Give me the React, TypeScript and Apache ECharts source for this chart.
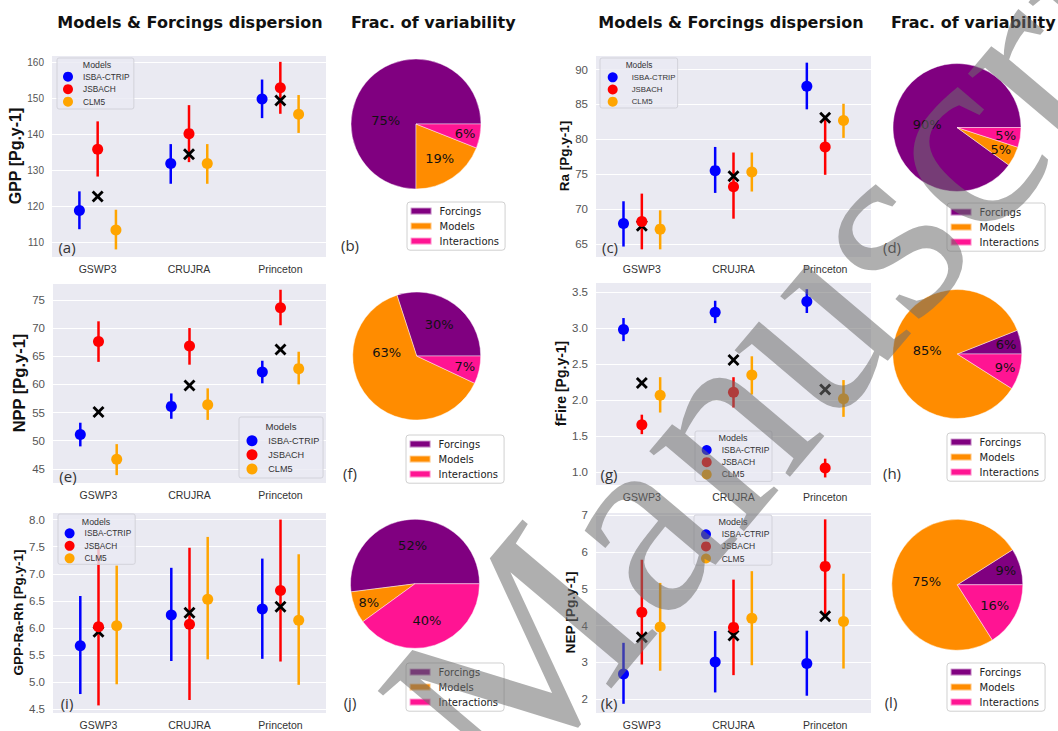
import React, { useEffect, useRef } from 'react';
import * as echarts from 'echarts';

// ---------- data ----------
const forcings = ['GSWP3', 'CRUJRA', 'Princeton'];
const models = ['ISBA-CTRIP', 'JSBACH', 'CLM5'];
const sources = ['Forcings', 'Models', 'Interactions'];

// each entry: [mean, low, high] for GSWP3, CRUJRA, Princeton
const gppIsba = [[118.9, 113.7, 124.2], [131.9, 126.3, 137.3], [149.8, 144.5, 155.2]];
const gppJsbach = [[135.9, 128.3, 143.6], [140.2, 132.3, 148.1], [152.9, 145.7, 160.1]];
const gppClm5 = [[113.5, 108.1, 119.1], [131.9, 126.3, 137.3], [145.6, 140.4, 150.9]];
const gppEns = [122.8, 134.5, 149.4];

const raIsba = [[67.9, 64.6, 71.1], [75.5, 72.3, 78.9], [87.6, 84.3, 91.0]];
const raJsbach = [[68.2, 64.2, 72.2], [73.2, 68.6, 78.1], [78.9, 74.9, 83.0]];
const raClm5 = [[67.1, 64.2, 69.8], [75.3, 72.5, 78.1], [82.7, 80.2, 85.1]];
const raEns = [67.6, 74.7, 83.1];

const nppIsba = [[51.1, 49.0, 53.2], [56.1, 53.9, 58.4], [62.2, 60.2, 64.2]];
const nppJsbach = [[67.6, 64.0, 71.2], [66.8, 63.5, 70.0], [73.6, 70.5, 76.8]];
const nppClm5 = [[46.7, 43.9, 49.4], [56.4, 53.7, 59.3], [62.8, 60.0, 65.8]];
const nppEns = [55.1, 59.8, 66.2];

const fireIsba = [[2.98, 2.82, 3.14], [3.22, 3.07, 3.38], [3.37, 3.21, 3.54]];
const fireJsbach = [[1.66, 1.53, 1.80], [2.11, 1.90, 2.32], [1.06, 0.93, 1.19]];
const fireClm5 = [[2.07, 1.83, 2.32], [2.35, 2.08, 2.61], [2.02, 1.77, 2.28]];
const fireEns = [2.24, 2.56, 2.15];

const nbpIsba = [[5.67, 4.78, 6.59], [6.24, 5.39, 7.11], [6.35, 5.43, 7.28]];
const nbpJsbach = [[6.02, 4.57, 7.48], [6.07, 4.67, 7.48], [6.69, 5.38, 8.0]];
const nbpClm5 = [[6.04, 4.96, 7.15], [6.53, 5.42, 7.68], [6.14, 4.95, 7.36]];
const nbpEns = [5.93, 6.28, 6.39];

const nepIsba = [[2.68, 1.87, 3.53], [3.01, 2.18, 3.85], [2.97, 2.09, 3.86]];
const nepJsbach = [[4.36, 2.94, 5.79], [3.95, 2.65, 5.25], [5.61, 4.22, 6.89]];
const nepClm5 = [[3.96, 2.77, 5.16], [4.20, 2.92, 5.48], [4.11, 2.83, 5.41]];
const nepEns = [3.68, 3.73, 4.25];

// fractions of variability: Forcings, Models, Interactions (%)
const fracGpp = [75, 19, 6];
const fracRa = [90, 5, 5];
const fracNpp = [30, 63, 7];
const fracFire = [6, 85, 9];
const fracNbp = [52, 8, 40];
const fracNep = [9, 75, 16];

// ---------- styles ----------
const SANS = '"Liberation Sans", Arial, sans-serif';
const DJ = '"DejaVu Sans", sans-serif';
const modelColors = ['#0000FF', '#FF0000', '#FFA500'];
const pieColors = ['#800080', '#FF8C00', '#FF1493'];
const xPath = 'path://M0,2L2,0L6,4L10,0L12,2L8,6L12,10L10,12L6,8L2,12L0,10L4,6Z';
const offsets = [-0.2, 0, 0.2];

const panels = [
  {
    name: 'GPP [Pg.y-1]', sets: [gppIsba, gppJsbach, gppClm5], ens: gppEns, min: 106, max: 162, split: 5, dec: 0,
    grid: [52, 55, 274, 202], nameSize: 16, nameGap: 27, tick: 10, cat: 10.5,
    lg: { left: 57, top: 58, pad: [13.7, 4.3, 2.3, 6], gap: 2.5, icon: 10, font: 8.3, tpad: 5, tx: 97, ty: 65 },
    letter: ['(a)', 67, 247],
  },
  {
    name: 'Ra [Pg.y-1]', sets: [raIsba, raJsbach, raClm5], ens: raEns, min: 63.1, max: 92.1, split: 5, dec: 0,
    grid: [596, 55, 275, 202], nameSize: 13.5, nameGap: 24, tick: 11.5, cat: 10.5,
    lg: { left: 600, top: 58, pad: [14.3, 2.2, 1.3, 7.7], gap: 2.2, icon: 10, font: 7.8, tpad: 9, tx: 639, ty: 65 },
    letter: ['(c)', 610, 247],
  },
  {
    name: 'NPP [Pg.y-1]', sets: [nppIsba, nppJsbach, nppClm5], ens: nppEns, min: 42.5, max: 78, split: 7, dec: 0,
    grid: [53, 283, 273, 200], nameSize: 16.5, nameGap: 26, tick: 11.5, cat: 10.5,
    lg: { left: 239, top: 417, pad: [18.2, 3.7, 3.5, 7.5], gap: 3.15, icon: 11, font: 9.1, tpad: 5.8, tx: 281, ty: 426 },
    letter: ['(e)', 68, 476],
  },
  {
    name: 'fFire [Pg.y-1]', sets: [fireIsba, fireJsbach, fireClm5], ens: fireEns, min: 0.825, max: 3.64, split: 5, dec: 1,
    grid: [596, 282, 275, 203], nameSize: 14, nameGap: 27, tick: 11.5, cat: 10.5,
    lg: { left: 695, top: 431, pad: [14, 2.6, 2, 6.7], gap: 2.2, icon: 10, font: 8.5, tpad: 5, tx: 733, ty: 438 },
    letter: ['(g)', 609, 474],
  },
  {
    name: 'GPP-Ra-Rh [Pg.y-1]', sets: [nbpIsba, nbpJsbach, nbpClm5], ens: nbpEns, min: 4.43, max: 8.14, split: 7, dec: 1,
    grid: [53, 512, 273, 201], nameSize: 13.5, nameGap: 26, tick: 11.5, cat: 10.5,
    lg: { left: 58, top: 514, pad: [14.3, 4, 1, 6.6], gap: 2.5, icon: 10, font: 8.3, tpad: 5, tx: 96, ty: 522 },
    letter: ['(i)', 67, 703],
  },
  {
    name: 'NEP [Pg.y-1]', sets: [nepIsba, nepJsbach, nepClm5], ens: nepEns, min: 1.62, max: 7.09, split: 5, dec: 0,
    grid: [596, 512, 275, 201], nameSize: 13.7, nameGap: 16, tick: 11.5, cat: 10.5,
    lg: { left: 694, top: 515, pad: [14.3, 2.6, 1.7, 7], gap: 2.1, icon: 10, font: 8.5, tpad: 5.7, tx: 733, ty: 522 },
    letter: ['(k)', 609, 703],
  },
];

const pies = [
  { vals: fracGpp, c: [416, 124], r: 65, lg: [407, 202], letter: ['(b)', 350, 245] },
  { vals: fracRa, c: [957, 127.5], r: 64, lg: [947, 203], letter: ['(d)', 892, 247] },
  { vals: fracNpp, c: [416.7, 356], r: 64, lg: [406, 435], letter: ['(f)', 350, 473] },
  { vals: fracFire, c: [957.3, 354], r: 64.5, lg: [947, 433], letter: ['(h)', 892, 473] },
  { vals: fracNbp, c: [415, 583.8], r: 64.5, lg: [406, 663], letter: ['(j)', 350, 702] },
  { vals: fracNep, c: [957.3, 584.8], r: 65.5, lg: [947, 663], letter: ['(l)', 891, 702] },
];

function buildOption() {
  const grid: any[] = [];
  const xAxis: any[] = [];
  const yAxis: any[] = [];
  const series: any[] = [];
  const legend: any[] = [];
  const graphic: any[] = [];

  panels.forEach((p, k) => {
    const [l, t, w, h] = p.grid;
    grid.push({ left: l, top: t, width: w, height: h, show: true, backgroundColor: '#EAEAF2', borderWidth: 0 });
    xAxis.push({
      type: 'category', gridIndex: k, data: forcings, boundaryGap: true,
      axisLine: { show: false }, axisTick: { show: false }, splitLine: { show: false },
      axisLabel: { color: '#333', fontSize: p.cat, fontFamily: SANS, margin: 6, interval: 0 },
    });
    xAxis.push({ type: 'value', gridIndex: k, min: -0.5, max: 2.5, show: false });
    yAxis.push({
      type: 'value', gridIndex: k, min: p.min, max: p.max, splitNumber: p.split,
      name: p.name, nameLocation: 'middle', nameGap: p.nameGap,
      nameTextStyle: { fontSize: p.nameSize, fontWeight: 'bold', color: '#111', fontFamily: SANS },
      axisLine: { show: false }, axisTick: { show: false },
      splitLine: { show: true, lineStyle: { color: '#ffffff', width: 1.2 } },
      axisLabel: {
        color: '#555', fontSize: p.tick, fontFamily: SANS, margin: 8,
        showMinLabel: false, showMaxLabel: false,
        formatter: (v: number) => v.toFixed(p.dec),
      },
    });
    const xi = 2 * k + 1;
    p.sets.forEach((set, m) => {
      const color = modelColors[m];
      series.push({
        type: 'custom', name: 'err-' + k + '-' + m, xAxisIndex: xi, yAxisIndex: k, z: 2, silent: true,
        data: set.map((d, i) => [i + offsets[m], d[1], d[2]]),
        encode: { x: 0, y: [1, 2] },
        renderItem: (_params: any, api: any) => {
          const a = api.coord([api.value(0), api.value(1)]);
          const b = api.coord([api.value(0), api.value(2)]);
          return {
            type: 'line',
            shape: { x1: a[0], y1: a[1], x2: b[0], y2: b[1] },
            style: { stroke: color, lineWidth: 2.5 },
          };
        },
      });
    });
    series.push({
      type: 'scatter', name: 'Ensemble', xAxisIndex: xi, yAxisIndex: k, z: 3, silent: true,
      symbol: xPath, symbolSize: 12, itemStyle: { color: '#000', opacity: 1 },
      data: p.ens.map((v, i) => [i, v]),
    });
    p.sets.forEach((set, m) => {
      series.push({
        type: 'scatter', name: models[m], xAxisIndex: xi, yAxisIndex: k, z: 4, silent: true,
        symbol: 'circle', symbolSize: 11, itemStyle: { color: modelColors[m], opacity: 1 },
        data: set.map((d, i) => [i + offsets[m], d[0]]),
      });
    });
    const g = p.lg;
    legend.push({
      data: models, left: g.left, top: g.top, orient: 'vertical', icon: 'circle',
      itemWidth: g.icon, itemHeight: g.icon, itemGap: g.gap, selectedMode: false, z: 10,
      padding: g.pad, backgroundColor: 'rgba(234,234,242,0.8)', borderColor: '#d2d2da', borderWidth: 1, borderRadius: 2,
      textStyle: { fontSize: g.font, fontFamily: SANS, color: '#333', lineHeight: g.icon, padding: [0, 0, 0, g.tpad] },
    });
    graphic.push({
      type: 'text', x: g.tx, y: g.ty, z: 20, silent: true,
      style: { text: 'Models', fontSize: g.font + 0.5, fontFamily: SANS, fill: '#333', align: 'center', verticalAlign: 'middle' },
    });
    graphic.push({
      type: 'text', x: p.letter[1], y: p.letter[2], z: 20, silent: true,
      style: { text: p.letter[0] as string, fontSize: 15, fontFamily: '"Open Sans", sans-serif', fill: '#333', align: 'center', verticalAlign: 'middle' },
    });
  });

  pies.forEach((pp) => {
    const total = pp.vals.reduce((s, v) => s + v, 0);
    const [cx, cy] = pp.c;
    series.push({
      type: 'pie', center: pp.c, radius: pp.r, startAngle: 0, clockwise: false, silent: true,
      avoidLabelOverlap: false,
      data: sources.map((n, i) => ({ name: n, value: pp.vals[i], itemStyle: { color: pieColors[i] } })),
      itemStyle: { borderColor: 'rgba(255,255,255,0.55)', borderWidth: 0.8 },
      label: { show: true, position: 'inside', formatter: '{c}%', fontSize: 13, fontFamily: DJ, color: '#111' },
      labelLine: { show: false },
      labelLayout: (params: any) => {
        const i = params.dataIndex;
        let start = 0;
        for (let j = 0; j < i; j++) start += pp.vals[j] / total;
        const frac = pp.vals[i] / total;
        let ang = (start + frac / 2) * Math.PI * 2;
        let dist: number;
        if (frac >= 0.6) { ang = (174 * Math.PI) / 180; dist = 0.47; }
        else if (frac >= 0.2) dist = 0.6;
        else if (frac >= 0.12) dist = 0.65;
        else dist = 0.77;
        return {
          x: cx + dist * pp.r * Math.cos(ang),
          y: cy - dist * pp.r * Math.sin(ang),
          align: 'center', verticalAlign: 'middle',
        };
      },
    });
    legend.push({
      data: sources, left: pp.lg[0], top: pp.lg[1], orient: 'vertical', icon: 'rect',
      itemWidth: 21, itemHeight: 7, itemGap: 2, selectedMode: false, z: 10,
      padding: [2.6, 6, 2.6, 2.6], backgroundColor: '#ffffff', borderColor: '#d0d0d0', borderWidth: 1, borderRadius: 3,
      textStyle: { fontSize: 10, fontFamily: DJ, color: '#222', lineHeight: 13, padding: [0, 0, 0, 3] },
    });
    graphic.push({
      type: 'text', x: pp.letter[1], y: pp.letter[2], z: 20, silent: true,
      style: { text: pp.letter[0] as string, fontSize: 15, fontFamily: '"Open Sans", sans-serif', fill: '#333', align: 'center', verticalAlign: 'middle' },
    });
  });

  const titles: [string, number, 'center' | 'left'][] = [
    ['Models & Forcings dispersion', 190, 'center'],
    ['Frac. of variability', 351, 'left'],
    ['Models & Forcings dispersion', 731, 'center'],
    ['Frac. of variability', 891, 'left'],
  ];
  titles.forEach(([txt, x, al]) => {
    graphic.push({
      type: 'text', x, y: 22, z: 20, silent: true,
      style: { text: txt, fontSize: 16, fontWeight: 'bold', fontFamily: DJ, fill: '#111', align: al, verticalAlign: 'middle' },
    });
  });

  // watermark
  graphic.push({
    type: 'text', x: 541, y: 839, rotation: 0.87, z: 100, silent: true,
    style: {
      text: 'Manuscript', fontSize: 270, fontFamily: '"Liberation Serif", serif',
      fill: 'rgba(110,110,110,0.55)', align: 'left', verticalAlign: 'bottom',
    },
  });

  return {
    animation: false,
    backgroundColor: '#ffffff',
    grid, xAxis, yAxis, series, legend, graphic,
  };
}

export default function App() {
  const ref = useRef<HTMLDivElement>(null);
  useEffect(() => {
    document.body.style.margin = '0';
    const chart = echarts.init(ref.current as HTMLDivElement, undefined, { renderer: 'svg' });
    chart.setOption(buildOption() as any);
    return () => chart.dispose();
  }, []);
  return <div ref={ref} style={{ width: 1058, height: 731 }} />;
}
